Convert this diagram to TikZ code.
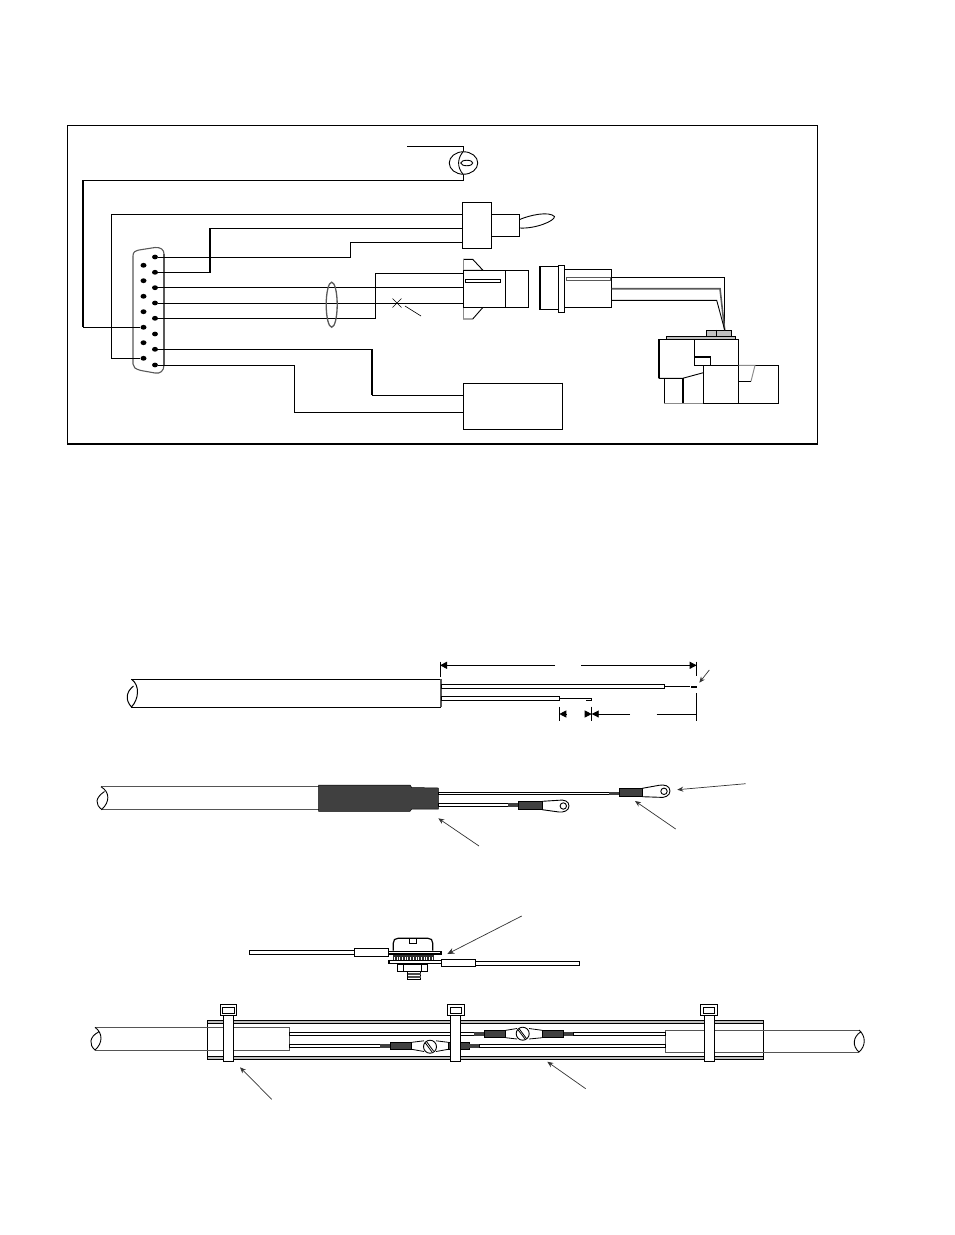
\documentclass[tikz,border=0pt]{standalone}
\usepackage{tikz}
\usepackage{xcolor}
\usetikzlibrary{arrows.meta, shapes.geometric}
\definecolor{shellgray}{HTML}{595959}
\definecolor{sleevegray}{HTML}{404040}
\definecolor{plategray}{HTML}{c0c0c0}
\definecolor{cablegray}{HTML}{555555}

\tikzset{
    part/.style = {draw, rectangle, inner sep = 0pt, line width = 0.9pt, fill = white},
    pinnode/.style = {fill = black, ellipse, inner sep = 0pt, minimum width = 6pt, minimum height = 4.8pt},
    wire/.style = {line width = 0.9pt},
    heavywire/.style = {line width = 1.7pt},
    greyedge/.style = {draw = shellgray!70, line width = 1pt},
    cableline/.style = {draw = cablegray, line width = 0.9pt},
    wirestrip/.style = {draw, fill = white, line width = 0.9pt},
    sleeve/.style = {draw, fill = sleevegray, line width = 0.5pt},
    strap/.style = {draw, fill = white, line width = 1pt},
    dimline/.style = {line width = 0.9pt},
    dimtip/.style = {-{Triangle[length = 7pt, width = 7pt]}, line width = 0.9pt},
    leader/.style = {-{Stealth[length = 6pt, width = 5pt]}, line width = 0.7pt, draw = black!80}
}

\begin{document}
\begin{tikzpicture}[x = 1pt, y = -1pt]
        \useasboundingbox (0, 0) rectangle (954, 1235);

        % Frame
        \node [draw, rectangle, line width = 0.9pt, inner sep = 0pt, minimum width = 750pt, minimum height = 318.5pt] (frame) at (442.5, 284.25) {};
        \draw [heavywire] (frame.south west) -- (frame.south east);

        % Plug shell
        \draw [draw = shellgray, line width = 1.1pt] (133, 256) .. controls (133, 252) and (135, 251) .. (139, 250) -- (155, 247.5) .. controls (161, 247) and (164, 250) .. (164, 254) -- (164, 365) .. controls (164, 371) and (160, 374) .. (155, 373) -- (141, 370.5) .. controls (135, 369) and (133, 367) .. (133, 364) -- cycle;
        \draw [draw = shellgray, line width = 1.7pt] (164, 254) -- (164, 365);

        % Pins
        \node [pinnode] (r1) at (155, 257) {};
        \node [pinnode] (r2) at (155, 272.3) {};
        \node [pinnode] (r3) at (155, 287.7) {};
        \node [pinnode] (r4) at (155, 303) {};
        \node [pinnode] (r5) at (155, 318.3) {};
        \node [pinnode] (r6) at (155, 334) {};
        \node [pinnode] (r7) at (155, 349.3) {};
        \node [pinnode] (r8) at (155, 365) {};
        \node [pinnode] (l1) at (143.5, 265.3) {};
        \node [pinnode] (l2) at (143.5, 280.7) {};
        \node [pinnode] (l3) at (143.5, 296.3) {};
        \node [pinnode] (l4) at (143.5, 311.7) {};
        \node [pinnode] (l5) at (143.5, 327.3) {};
        \node [pinnode] (l6) at (143.5, 342.7) {};
        \node [pinnode] (l7) at (143.5, 358.3) {};

        % Lamp
        \node [draw, ellipse, line width = 0.9pt, inner sep = 0pt, minimum width = 28.5pt, minimum height = 22.5pt] (lamp) at (463.5, 163) {};
        \node [draw, ellipse, line width = 0.9pt, inner sep = 0pt, minimum width = 12pt, minimum height = 5.5pt] (filament) at (466.8, 163) {};
        \draw [line width = 0.9pt] (lamp.north) .. controls (458, 157) and (456, 167) .. (lamp.south);
        \coordinate (lampfeed) at (407, 146);
        \coordinate (lamptop) at (463.5, 146);
        \coordinate (lampend) at (463.5, 180);

        % Switch
        \node [part, minimum width = 29pt, minimum height = 46.5pt] (swbody) at (477.3, 225.5) {};
        \node [part, minimum width = 28pt, minimum height = 22.5pt] (swneck) at (505.7, 225.2) {};
        \draw [line width = 0.9pt] (519.7, 219.5) .. controls (530, 215) and (549, 211) .. (554.5, 216.5) .. controls (555, 221) and (535, 229) .. (519.7, 228);
        \coordinate (swa) at (463, 214);
        \coordinate (swb) at (463, 228);
        \coordinate (swc) at (463, 242);

        % Mating connector, left half
        \draw [wire, draw = black] (463, 270.3) -- (483, 270.3) -- (472.7, 259.3) -- (463, 259.3);
        \draw [greyedge] (463, 259.3) -- (463, 270.3);
        \draw [wire] (483, 307.3) -- (472.7, 319) -- (463, 319);
        \draw [greyedge] (463, 307.3) -- (463, 319);
        \node [part, minimum width = 42.5pt, minimum height = 37pt] (plugbody) at (484.2, 288.8) {};
        \node [part, minimum width = 23.5pt, minimum height = 37pt] (plugcap) at (517, 288.8) {};
        \node [part, line width = 0.8pt, minimum width = 35.5pt, minimum height = 3pt] (plugslot) at (483, 280.8) {};
        \coordinate (pluga) at (463, 273);
        \coordinate (plugb) at (463, 287.7);
        \coordinate (plugc) at (463, 303);

        % Mating connector, right half
        \node [part, minimum width = 17.5pt, minimum height = 42.5pt] (sockcap) at (549.5, 288) {};
        \draw [heavywire] (sockcap.north west) -- (sockcap.south west);
        \node [part, minimum width = 47pt, minimum height = 38pt] (sockbody) at (588.2, 288.3) {};
        \node [part, minimum width = 6.4pt, minimum height = 47.4pt] (sockrim) at (561.5, 289) {};
        \node [draw = shellgray, fill = white, rectangle, line width = 1pt, inner sep = 0pt, minimum width = 44pt, minimum height = 2.8pt] (sockslot) at (588, 278.8) {};
        \coordinate (socka) at (611.7, 277.5);
        \coordinate (sockb) at (611.7, 288.7);
        \coordinate (sockc) at (611.7, 300.3);

        % Sensor
        \node [draw, fill = plategray, rectangle, line width = 1.1pt, inner sep = 0pt, minimum width = 25pt, minimum height = 5.8pt] (bolt) at (719.2, 333.2) {};
        \draw [wire] (bolt.north) ++ (-2.5, 0) -- ++ (0, 5.8);
        \node [draw, fill = plategray, rectangle, line width = 0.9pt, inner sep = 0pt, minimum width = 68.5pt, minimum height = 3pt] (plate) at (700.8, 337.8) {};
        \draw [wire] (694.3, 339.3) -- (738.7, 339.3) -- (738.7, 403.3) -- (664.3, 403.3) -- (664.3, 378.3);
        \draw [heavywire] (658.7, 339.3) -- (658.7, 378.3);
        \draw [wire] (658.7, 339.3) -- (694.3, 339.3) -- (694.3, 365.3) -- (778.3, 365.3) -- (778.3, 403.3) -- (738.7, 403.3);
        \draw [wire] (658.7, 378.3) -- (682.7, 378.3) -- (703.3, 372.7);
        \draw [wire] (703.3, 365.3) -- (703.3, 403.3);
        \draw [heavywire] (682.7, 378.3) -- (682.7, 403.3);
        \draw [heavywire] (694.3, 356.7) -- (710.7, 356.7);
        \draw [wire] (710.7, 356.7) -- (710.7, 365.3);
        \draw [greyedge] (738.7, 365.3) -- (755, 365.3) -- (751, 381.3);
        \draw [wire] (751, 381.3) -- (738.7, 381.3);
        \draw [greyedge] (664.3, 403.8) -- (703.3, 403.8);
        \coordinate (senstop) at (724.7, 330);

        % Indicator box
        \node [part, minimum width = 99pt, minimum height = 46.5pt] (relay) at (512.5, 406.2) {};
        \draw [line width = 1.5pt] (relay.north east) -- (relay.south east);
        \coordinate (relaya) at (463, 395);
        \coordinate (relayb) at (463, 412);

        % Draw the links
        \draw [wire] (lampfeed) -- (lamptop) -- (lamp.north);
        \draw [wire] (lamp.south) -- (lampend) -| (83, 327.3) -- (l5.west);
        \draw [heavywire] (83, 180) -- (83, 327.3);
        \draw [wire] (swa) -| (111, 358.3) -- (l7.west);
        \draw [wire] (swb) -| (210, 272.3) -- (r2.east);
        \draw [heavywire] (210, 228) -- (210, 272.3);
        \draw [wire] (swc) -| (350, 257) -- (r1.east);
        \draw [wire] (r3.east) -- (plugb);
        \draw [wire] (r4.east) -- (plugc);
        \draw [wire] (r5.east) -| (375, 273) -- (pluga);
        \draw [wire] (r7.east) -| (372, 395) -- (relaya);
        \draw [heavywire] (372, 349.3) -- (372, 395);
        \draw [wire] (r8.east) -| (294.5, 412) -- (relayb);
        \draw [wire] (socka) -| (senstop);
        \draw [line width = 1.6pt, draw = shellgray] (sockb) -- (720, 288.7) -- (senstop);
        \draw [wire] (sockc) -- (716.7, 300.3) -- (senstop);

        % Bundle ring and crossed wire
        \node [draw = shellgray, ellipse, line width = 1.3pt, inner sep = 0pt, minimum width = 11pt, minimum height = 45pt] (ring) at (331.7, 304.7) {};
        \coordinate (crossa) at (392.5, 298.5);
        \coordinate (crossb) at (401.5, 307.5);
        \coordinate (crossc) at (392.5, 307.5);
        \coordinate (crossd) at (401.5, 298.5);
        \coordinate (crosse) at (405, 306);
        \coordinate (crossf) at (421, 316);
        \draw [line width = 0.6pt] (crossa) -- (crossb);
        \draw [line width = 0.6pt] (crossc) -- (crossd);
        \draw [line width = 0.6pt] (crosse) -- (crossf);

        % Stripped cable
        \draw [line width = 1pt] (131, 679.3) -- (441, 679.3);
        \draw [line width = 1pt] (131, 707) -- (441, 707);
        \draw [cableline, line width = 1.4pt] (441, 679.3) -- (441, 707);
        \draw [line width = 1pt] (131.5, 679.3) .. controls (140, 685) and (139, 699) .. (131.5, 707) .. controls (125, 700) and (126, 692) .. (133.5, 686);
        \draw [wirestrip] (441, 684.3) rectangle (664.3, 688.3);
        \draw [heavywire] (441, 688.5) -- (664.3, 688.5);
        \draw [line width = 0.8pt] (664.3, 686.7) -- (690, 686.7);
        \fill (690.7, 685.5) rectangle (696.7, 688.1);
        \draw [wirestrip] (441, 696.3) rectangle (559.3, 700.3);
        \draw [line width = 0.8pt] (559.3, 698.3) -- (591.7, 698.3) -- (591.7, 700.3) -- (586, 700.3);

        % Dimensions
        \coordinate (longa) at (440, 665.3);
        \coordinate (longb) at (555, 665.3);
        \coordinate (longc) at (581, 665.3);
        \coordinate (longd) at (696.7, 665.3);
        \coordinate (shorta) at (559.3, 714);
        \coordinate (shortb) at (566.5, 714);
        \coordinate (shortc) at (584.5, 714);
        \coordinate (shortd) at (591.7, 714);
        \coordinate (shorte) at (630, 714);
        \coordinate (shortf) at (656.7, 714);
        \coordinate (shortg) at (696.7, 714);
        \draw [dimline] (440, 661.5) -- (440, 677);
        \draw [dimline] (696.7, 661.5) -- (696.7, 676);
        \draw [dimline] (696.7, 693) -- (696.7, 721);
        \draw [dimline] (559.3, 706.7) -- (559.3, 721);
        \draw [dimline] (591.7, 706.7) -- (591.7, 721);
        \draw [dimtip] (longb) -- (longa);
        \draw [dimtip] (longc) -- (longd);
        \draw [dimtip] (shortb) -- (shorta);
        \draw [dimtip] (shortc) -- (shortd);
        \draw [dimtip] (shorte) -- (shortd);
        \draw [dimline] (shortf) -- (shortg);
        \coordinate (stripfrom) at (709.3, 670);
        \coordinate (stripto) at (699.3, 682.7);
        \draw [leader] (stripfrom) -- (stripto);

        % Cable with lugs
        \draw [cableline] (101, 786.7) -- (319, 786.7);
        \draw [cableline] (101, 809.5) -- (319, 809.5);
        \draw [line width = 0.9pt] (101, 786.7) .. controls (110, 792) and (110, 802) .. (101.7, 809.5) .. controls (95, 804) and (95, 798) .. (104.5, 791.5);
        \draw [sleeve] (318.7, 785) -- (410, 785) -- (411.7, 787.5) -- (438.3, 788) -- (438.3, 809) -- (411.7, 809) -- (410, 811.3) -- (318.7, 811.3) -- cycle;
        \draw [wirestrip] (438.3, 792) rectangle (609.3, 794.3);
        \fill [sleevegray] (609.3, 791.7) rectangle (619.3, 794.5);
        \draw [sleeve] (619.3, 788.3) rectangle (642.3, 796.7);
        \draw [line width = 0.9pt] (642.3, 788.3) -- (659, 785.3) .. controls (664, 784.3) and (670, 785.5) .. (670, 791) .. controls (670, 796) and (664, 798) .. (660, 797.3) -- (642.3, 796.7);
        \draw [line width = 0.9pt] (664, 791.3) circle (3.2);
        \draw [wirestrip] (438.3, 803.7) rectangle (508.3, 806.3);
        \fill [sleevegray] (508.3, 803.3) rectangle (518.3, 807.3);
        \draw [sleeve] (518.3, 801.3) rectangle (542.3, 809.7);
        \draw [line width = 0.9pt] (542.3, 801.3) -- (558, 800.3) .. controls (564, 799.3) and (569, 801) .. (569, 806) .. controls (569, 811) and (563, 812.5) .. (559, 812) -- (542.3, 809.7);
        \draw [line width = 0.9pt] (563.3, 806) circle (3.2);
        \coordinate (lugfrom) at (745.7, 783.7);
        \coordinate (lugto) at (677.3, 789.7);
        \coordinate (crimpfrom) at (675.7, 829);
        \coordinate (crimpto) at (635, 801);
        \coordinate (shrinkfrom) at (479, 846);
        \coordinate (shrinkto) at (438.3, 818.3);
        \draw [leader] (lugfrom) -- (lugto);
        \draw [leader] (crimpfrom) -- (crimpto);
        \draw [leader] (shrinkfrom) -- (shrinkto);

        % Screw stack
        \draw [wirestrip] (249.3, 950.7) rectangle (354, 954);
        \draw [wirestrip] (354, 948.7) rectangle (388.3, 956.3);
        \draw [line width = 1.2pt, fill = white] (393.3, 950.7) -- (393.3, 943) .. controls (393.3, 940) and (395, 938.3) .. (398, 938.3) -- (428, 938.3) .. controls (431, 938.3) and (432.7, 940) .. (432.7, 943) -- (432.7, 950.7);
        \draw [line width = 0.9pt] (409, 938.3) -- (409, 943.3) -- (416.7, 943.3) -- (416.7, 938.3);
        \draw [wirestrip, line width = 1.3pt] (388.3, 951.3) rectangle (441, 954);
        \fill [sleevegray!70!black] (393.3, 955) rectangle (434.3, 960.7);
        \draw [white, line width = 0.5pt, xstep = 2.7pt, ystep = 1000pt] (394, 957) grid (434, 960.7);
        \draw [wirestrip, line width = 1.3pt] (389, 960.7) rectangle (441.7, 963.7);
        \draw [wirestrip] (441.7, 959) rectangle (475.7, 966.7);
        \draw [wirestrip] (475.7, 961.7) rectangle (579.3, 965.3);
        \draw [wirestrip, line width = 1.3pt] (397.3, 964) rectangle (427.3, 971.7);
        \draw [line width = 1.5pt] (403.3, 964) -- (403.3, 971.7);
        \draw [line width = 1.5pt] (421.7, 964) -- (421.7, 971.7);
        \draw [wirestrip] (407.7, 971.7) rectangle (420.7, 979.3);
        \draw [black!70, line width = 0.6pt, xstep = 1000pt, ystep = 1.6pt] (408, 972.5) grid (420.5, 979);
        \coordinate (stackfrom) at (521.7, 916);
        \coordinate (stackto) at (447.3, 954);
        \draw [leader, -{Stealth[length = 7pt, width = 6pt]}] (stackfrom) -- (stackto);

        % Channel
        \draw [fill = plategray, line width = 0.9pt] (207.5, 1020) rectangle (763.5, 1059.3);
        \draw [fill = white, line width = 0.9pt] (207.5, 1023.3) rectangle (763.5, 1056.7);

        % Cable ends in the channel
        \draw [cableline] (95, 1027.3) -- (289, 1027.3) -- (289, 1050) -- (95, 1050);
        \draw [line width = 0.9pt] (95, 1027.3) .. controls (103, 1033) and (103, 1043) .. (95, 1050) .. controls (89, 1045) and (89, 1037) .. (98.5, 1032);
        \draw [cableline] (859, 1030) -- (665, 1030) -- (665, 1052) -- (859, 1052);
        \draw [line width = 0.9pt] (859, 1030) .. controls (866, 1036) and (866, 1046) .. (859, 1052) .. controls (852, 1046) and (853, 1037) .. (860.5, 1032);

        % Upper splice
        \draw [wirestrip] (289, 1032.3) rectangle (475, 1035.7);
        \fill [sleevegray] (474.3, 1032) rectangle (484.3, 1035.8);
        \draw [sleeve] (484.3, 1030.3) rectangle (505.7, 1037.7);
        \draw [line width = 0.8pt] (505.7, 1030.3) -- (517, 1028.5);
        \draw [line width = 0.8pt] (505.7, 1037.7) -- (517, 1039);
        \draw [line width = 0.8pt] (542.3, 1030.3) -- (529, 1028.5);
        \draw [line width = 0.8pt] (542.3, 1037.7) -- (529, 1039);
        \draw [line width = 0.9pt, fill = white] (522.7, 1033.7) circle (6.5);
        \draw [line width = 0.8pt] (519, 1028.5) -- (526.5, 1038.5);
        \draw [line width = 0.8pt] (517.8, 1029.5) -- (525, 1039);
        \draw [sleeve] (542.3, 1030.3) rectangle (563.7, 1037.7);
        \fill [sleevegray] (563.7, 1032) rectangle (573.7, 1035.8);
        \draw [wirestrip] (573.7, 1032.3) rectangle (665, 1035.5);

        % Lower splice
        \draw [wirestrip] (289, 1044.3) rectangle (380, 1047.3);
        \fill [sleevegray] (380, 1044) rectangle (390, 1047.6);
        \draw [sleeve] (390, 1042.3) rectangle (411.7, 1049.3);
        \draw [line width = 0.8pt] (411.7, 1042.3) -- (424, 1040.8);
        \draw [line width = 0.8pt] (411.7, 1049.3) -- (424, 1051.5);
        \draw [line width = 0.8pt] (448.3, 1042.3) -- (436, 1040.8);
        \draw [line width = 0.8pt] (448.3, 1049.3) -- (436, 1051.5);
        \draw [line width = 0.9pt, fill = white] (430, 1046.7) circle (6.5);
        \draw [line width = 0.8pt] (426.5, 1041.5) -- (433.5, 1051);
        \draw [line width = 0.8pt] (425, 1042.5) -- (432, 1052);
        \draw [sleeve] (448.3, 1042.3) rectangle (469.3, 1049.3);
        \fill [sleevegray] (469.3, 1044) rectangle (479.3, 1047.6);
        \draw [wirestrip] (479.3, 1044.3) rectangle (665, 1047.3);

        % Cable ties
        \node [strap, minimum width = 10.4pt, minimum height = 46.3pt] (tiea) at (228.5, 1038.2) {};
        \node [strap, minimum width = 16.4pt, minimum height = 11.4pt] (tieheada) at (228.5, 1010) {};
        \node [strap, line width = 0.9pt, minimum width = 11.3pt, minimum height = 2.7pt] (tieslota) at (228.5, 1010.3) {};
        \node [strap, minimum width = 10.4pt, minimum height = 46.3pt] (tieb) at (455.5, 1038.2) {};
        \node [strap, minimum width = 17pt, minimum height = 11.4pt] (tieheadb) at (455.8, 1010) {};
        \node [strap, line width = 0.9pt, minimum width = 11.3pt, minimum height = 2.7pt] (tieslotb) at (455.8, 1010.3) {};
        \node [strap, minimum width = 10pt, minimum height = 46.3pt] (tiec) at (709.3, 1038.2) {};
        \node [strap, minimum width = 17.4pt, minimum height = 11.4pt] (tieheadc) at (709, 1010) {};
        \node [strap, line width = 0.9pt, minimum width = 11.3pt, minimum height = 2.7pt] (tieslotc) at (709, 1010.3) {};

        % Channel arrows
        \coordinate (tiefrom) at (271.7, 1099.3);
        \coordinate (tieto) at (240, 1067.3);
        \coordinate (channelfrom) at (585.7, 1088.7);
        \coordinate (channelto) at (547.3, 1061.7);
        \draw [leader] (tiefrom) -- (tieto);
        \draw [leader] (channelfrom) -- (channelto);

    \end{tikzpicture}
\end{document}
